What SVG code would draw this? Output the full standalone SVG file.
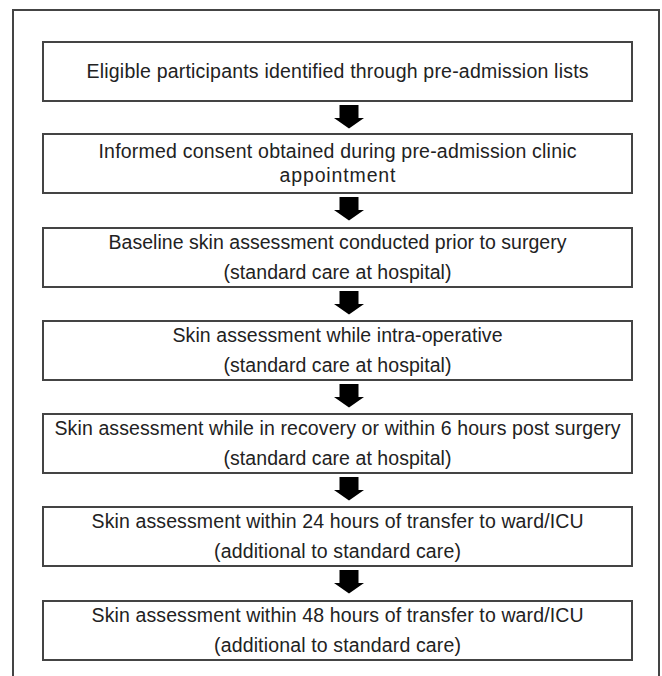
<svg xmlns="http://www.w3.org/2000/svg" width="662" height="676" viewBox="0 0 662 676">
<style>
.frame{fill:none;stroke:#444;stroke-width:2}
.box{fill:#fff;stroke:#444;stroke-width:2}
.t{font-family:"Liberation Sans",Arial,sans-serif;font-size:19.5px;fill:#222;text-anchor:middle}
.arr{fill:#000}
</style>
<rect x="0" y="0" width="662" height="676" fill="#fff"/>
<path class="frame" d="M13,677 V10 H659 V677"/>
<g id="n1"><rect class="box" x="43" y="42" width="589" height="59"/>
<text class="t" x="337.5" y="78" textLength="502">Eligible participants identified through pre-admission lists</text></g>
<g id="n2"><rect class="box" x="43" y="134" width="589" height="59"/>
<text class="t" x="337.5" y="158" textLength="478">Informed consent obtained during pre-admission clinic</text>
<text class="t" x="337.5" y="182" textLength="116">appointment</text></g>
<g id="n3"><rect class="box" x="43" y="228" width="589" height="59"/>
<text class="t" x="337.5" y="249" textLength="458">Baseline skin assessment conducted prior to surgery</text>
<text class="t" x="337.5" y="279" textLength="228">(standard care at hospital)</text></g>
<g id="n4"><rect class="box" x="43" y="321" width="589" height="59"/>
<text class="t" x="337.5" y="342" textLength="330">Skin assessment while intra-operative</text>
<text class="t" x="337.5" y="372" textLength="228">(standard care at hospital)</text></g>
<g id="n5"><rect class="box" x="43" y="414" width="589" height="59"/>
<text class="t" x="337.5" y="435" textLength="566">Skin assessment while in recovery or within 6 hours post surgery</text>
<text class="t" x="337.5" y="465" textLength="228">(standard care at hospital)</text></g>
<g id="n6"><rect class="box" x="43" y="507" width="589" height="59"/>
<text class="t" x="337.5" y="528" textLength="492">Skin assessment within 24 hours of transfer to ward/ICU</text>
<text class="t" x="337.5" y="558" textLength="247">(additional to standard care)</text></g>
<g id="n7"><rect class="box" x="43" y="601" width="589" height="59"/>
<text class="t" x="337.5" y="622" textLength="492">Skin assessment within 48 hours of transfer to ward/ICU</text>
<text class="t" x="337.5" y="652" textLength="247">(additional to standard care)</text></g>
<g id="connectors">
<path class="arr" d="M339.5,105 h19 v13 h5.5 l-15,10.5 l-15,-10.5 h5.5 z"/>
<path class="arr" d="M339.5,197 h19 v13 h5.5 l-15,10.5 l-15,-10.5 h5.5 z"/>
<path class="arr" d="M339.5,291 h19 v13 h5.5 l-15,10.5 l-15,-10.5 h5.5 z"/>
<path class="arr" d="M339.5,384 h19 v13 h5.5 l-15,10.5 l-15,-10.5 h5.5 z"/>
<path class="arr" d="M339.5,477 h19 v13 h5.5 l-15,10.5 l-15,-10.5 h5.5 z"/>
<path class="arr" d="M339.5,570 h19 v13 h5.5 l-15,10.5 l-15,-10.5 h5.5 z"/>
</g>
</svg>
